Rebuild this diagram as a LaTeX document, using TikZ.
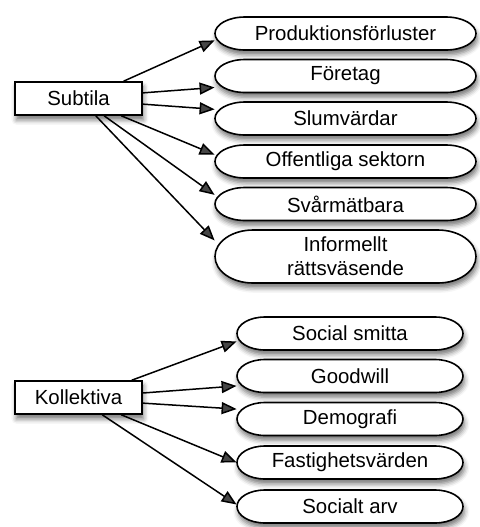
\documentclass[tikz,border=0pt]{standalone}
\usepackage{fontspec}
\setmainfont{Liberation Sans}
\usetikzlibrary{arrows.meta,shadows.blur}
\tikzset{shade/.style={blur shadow={shadow xshift=.7pt,shadow yshift=-2.4pt,shadow blur radius=2.5pt,shadow opacity=55}},
  grp/.style={rectangle,draw,fill=white,line width=.8pt,minimum width=63.5pt,minimum height=16.5pt,inner sep=1pt,shade},
  pill/.style={draw,fill=white,line width=.8pt,shade},
  txt/.style={rectangle,inner sep=1pt,align=center},
  arr/.style={line width=.75pt,-{Triangle[length=7.5pt,width=6pt]}}}
% name, x, y, width, height, cap, text (px)
\newcommand{\pill}[7]{%
\draw[pill] (#2-#4/2+#6,#3-#5/2) -- (#2+#4/2-#6,#3-#5/2)
  arc[start angle=90,end angle=-90,x radius=#6*.5pt,y radius=#5*.25pt]
  -- (#2-#4/2+#6,#3+#5/2)
  arc[start angle=270,end angle=90,x radius=#6*.5pt,y radius=#5*.25pt] -- cycle;
\node[txt,minimum width=#4*.5pt,minimum height=#5*.5pt] (#1) at (#2,#3) {#7};
}

\begin{document}
\begin{tikzpicture}[x=.5pt,y=-.5pt,font=\fontsize{10.2}{12}\selectfont]
\useasboundingbox (0,0) rectangle (480,527);
% upper group
\node[grp] (sub) at (78.5,98.5) {Subtila};
\foreach \n/\y/\t in {prod/33.5/Produktionsförluster,fore/76/Företag,slum/118.5/Slumvärdar,
  offe/161.5/Offentliga sektorn,svar/204/Svårmätbara}
  \pill{\n}{345.5}{\y}{261}{33}{30}{\t};
\pill{info}{345.5}{256.5}{261}{53}{38}{Informellt\\rättsväsende}
\foreach \n/\a/\b in {prod/21.7/183.7,fore/5/185.4,slum/355/176.3,offe/338.3/177.1,svar/326/176.9,info/315/173.7}
  \draw[arr] (sub.\a) -- (\n.\b);
% lower group
\node[grp] (kol) at (78.5,397.5) {Kollektiva};
\foreach \n/\y/\t in {smit/333.5/Social smitta,good/376/Goodwill,demo/419/Demografi,
  fast/462.5/Fastighetsvärden,arv/506.5/Socialt arv}
  \pill{\n}{350}{\y}{226}{33}{28}{\t};
\foreach \n/\a/\b in {smit/18.8/184.8,good/4/185.7,demo/355/175.4,fast/338.5/180,arv/324.5/179}
  \draw[arr] (kol.\a) -- (\n.\b);
\end{tikzpicture}
\end{document}
